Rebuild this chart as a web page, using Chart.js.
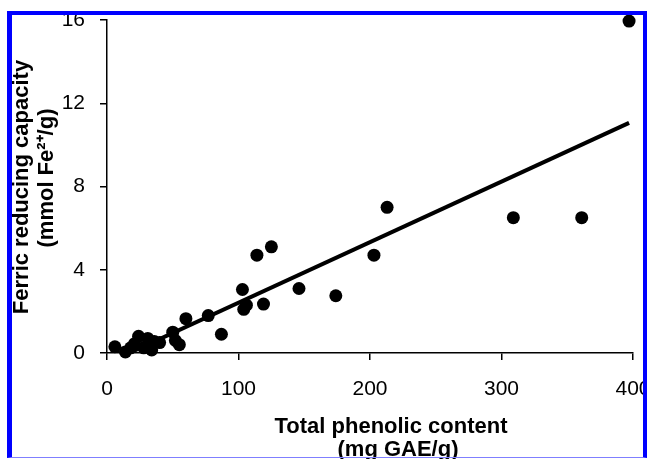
<!DOCTYPE html>
<html><head><meta charset="utf-8">
<script src="https://cdn.jsdelivr.net/npm/chart.js@4.4.1/dist/chart.umd.min.js"></script>
<style>
html,body{margin:0;padding:0;background:#fff;}
#wrap{position:relative;width:647px;height:459px;overflow:hidden;background:#fff;}
#frame{position:absolute;left:7px;top:11px;width:640px;height:447px;box-sizing:border-box;border-left:5px solid #0000ff;border-top:4px solid #0000ff;border-right:4px solid #0000ff;border-bottom:1px solid #7f7fff;pointer-events:none;}
canvas{display:block;}
</style>
</head><body>
<div id="wrap"><canvas id="c" width="647" height="459"></canvas><div id="frame"></div></div>
<script>
// Total phenolic content (mg GAE/g)
const phenolic = [6, 14, 18, 21, 24, 28, 31, 34, 36, 40, 50, 52, 55, 60, 77, 87, 103, 104, 106, 114, 119, 125, 146, 174, 203, 213, 309, 361, 397];
// Ferric reducing capacity (mmol Fe2+/g)
const frc =      [0.3, 0.05, 0.25, 0.45, 0.8, 0.25, 0.7, 0.15, 0.55, 0.5, 1.0, 0.6, 0.4, 1.65, 1.8, 0.9, 3.05, 2.1, 2.3, 4.7, 2.35, 5.1, 3.1, 2.75, 4.7, 7.0, 6.5, 6.5, 15.95];
// Linear trend line endpoints
const trendX = [7, 397];
const trendY = [-0.29, 11.06];
const xTicks = [0, 100, 200, 300, 400];
const yTicks = [0, 4, 8, 12, 16];
const xTitle = ['Total phenolic content', '(mg GAE/g)'];
const yTitle = ['Ferric reducing capacity', '(mmol Fe\u00B2\u207A/g)'];

const FONT = "'Liberation Sans', Arial, sans-serif";

const titlePlugin = {
  id: 'axisTitles',
  afterDraw(chart) {
    const ctx = chart.ctx;
    ctx.save();
    ctx.fillStyle = '#000';
    ctx.font = 'bold 22px ' + FONT;
    ctx.textAlign = 'center';
    ctx.textBaseline = 'alphabetic';
    ctx.fillText(xTitle[0], 391, 433);
    ctx.fillText(xTitle[1], 398, 456);
    ctx.save();
    ctx.translate(28, 187);
    ctx.rotate(-Math.PI / 2);
    ctx.fillText(yTitle[0], 0, 0);
    ctx.restore();
    ctx.save();
    ctx.translate(53, 178);
    ctx.rotate(-Math.PI / 2);
    ctx.fillText(yTitle[1], 0, 0);
    ctx.restore();
    ctx.restore();
  }
};

new Chart(document.getElementById('c'), {
  data: {
    datasets: [
      {
        type: 'scatter',
        data: phenolic.map((v, i) => ({x: v, y: frc[i]})),
        backgroundColor: '#000',
        borderWidth: 0,
        pointRadius: 6.5,
        pointHoverRadius: 6.5,
        clip: false,
        order: 1
      },
      {
        type: 'line',
        data: trendX.map((v, i) => ({x: v, y: trendY[i]})),
        borderColor: '#000',
        borderWidth: 4,
        pointRadius: 0,
        fill: false,
        order: 2
      }
    ]
  },
  options: {
    responsive: false,
    animation: false,
    layout: {padding: {top: 20, right: 14, left: 0, bottom: 0}},
    plugins: {legend: {display: false}, tooltip: {enabled: false}},
    scales: {
      x: {
        type: 'linear', min: 0, max: 400,
        afterBuildTicks(s) { s.ticks = xTicks.map(v => ({value: v})); },
        ticks: {font: {family: FONT, size: 21}, color: '#000', padding: 17, maxRotation: 0, autoSkip: false},
        grid: {drawOnChartArea: false, drawTicks: true, tickLength: 7, color: '#000', lineWidth: 1.5},
        border: {display: true, color: '#000', width: 1.5},
        afterFit(s) { s.height = 106; s.paddingLeft = 0; s.paddingRight = 0; }
      },
      y: {
        type: 'linear', min: 0, max: 16,
        afterBuildTicks(s) { s.ticks = yTicks.map(v => ({value: v})); },
        ticks: {font: {family: FONT, size: 21}, color: '#000', padding: 15, autoSkip: false},
        grid: {drawOnChartArea: false, drawTicks: true, tickLength: 7, color: '#000', lineWidth: 1.5},
        border: {display: true, color: '#000', width: 1.5},
        afterFit(s) { s.width = 107; s.paddingTop = 0; s.paddingBottom = 0; }
      }
    }
  },
  plugins: [titlePlugin]
});
</script>
</body></html>
